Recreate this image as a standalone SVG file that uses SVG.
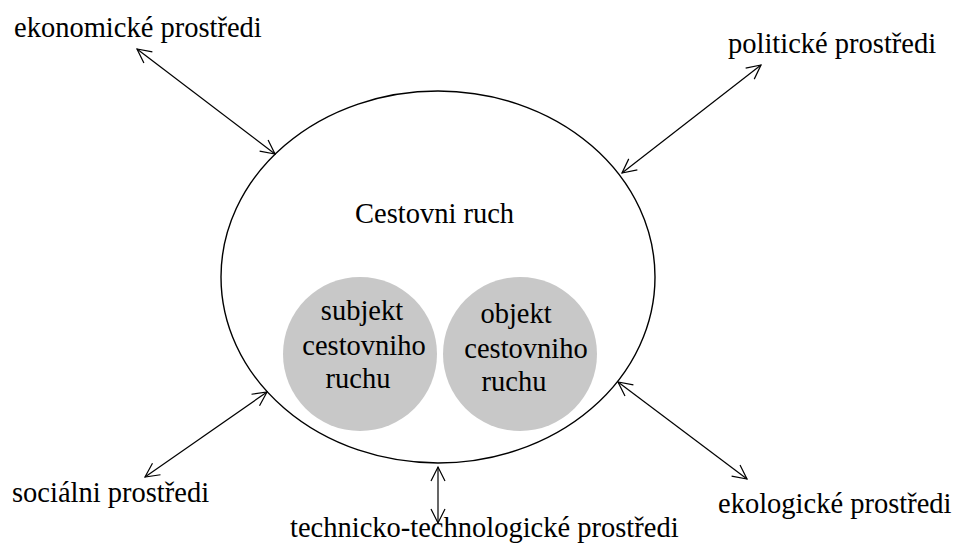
<svg xmlns="http://www.w3.org/2000/svg" width="956" height="550" viewBox="0 0 956 550">
<style>
.ln{stroke:#000;stroke-width:1.2;fill:none;marker-start:url(#ah);marker-end:url(#ah)}
</style>
<defs>
<marker id="ah" markerUnits="userSpaceOnUse" markerWidth="20" markerHeight="20" refX="0" refY="0" viewBox="-16 -10 18 20" orient="auto-start-reverse">
<path d="M-14,-7 L0,0 L-14,7" fill="none" stroke="#000" stroke-width="1.2"/>
</marker>
</defs>
<rect width="956" height="550" fill="#fff"/>
<g font-family="'Liberation Serif', serif" font-size="28.5" fill="#000">
<g id="cestovni-ruch">
<ellipse cx="438" cy="277" rx="217" ry="186" fill="none" stroke="#000" stroke-width="1.4"/>
<text x="355" y="223">Cestovni ruch</text>
</g>
<g id="subjekt" text-anchor="middle">
<circle cx="360" cy="354" r="77" fill="#c8c8c8"/>
<text x="362" y="320">subjekt</text>
<text x="364" y="355">cestovniho</text>
<text x="358" y="388">ruchu</text>
</g>
<g id="objekt" text-anchor="middle">
<circle cx="520" cy="354" r="77" fill="#c8c8c8"/>
<text x="516" y="323">objekt</text>
<text x="526" y="358">cestovniho</text>
<text x="514" y="391">ruchu</text>
</g>
<g id="ekonomicke"><text x="14" y="37">ekonomické prostředi</text></g>
<g id="politicke"><text x="728" y="53">politické prostředi</text></g>
<g id="socialni"><text x="12" y="502">sociálni prostředi</text></g>
<g id="ekologicke"><text x="718" y="513">ekologické prostředi</text></g>
<g id="technicko"><text x="290" y="537">technicko-technologické prostředi</text></g>
</g>
<g id="connectors">
<line class="ln" x1="137" y1="49" x2="275" y2="154"/>
<line class="ln" x1="761" y1="65" x2="622" y2="173"/>
<line class="ln" x1="145" y1="477" x2="267" y2="392"/>
<line class="ln" x1="747" y1="479" x2="618" y2="382"/>
<line class="ln" x1="438" y1="523" x2="438" y2="467"/>
</g>
</svg>
